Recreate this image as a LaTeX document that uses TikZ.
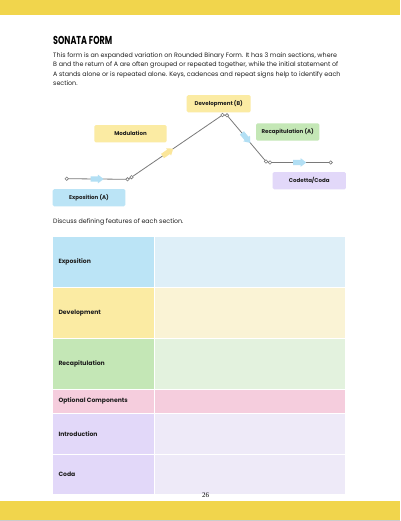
\documentclass[tikz,border=0pt]{standalone}
\usepackage{fontspec}
\setmainfont{Poppins}
\newfontfamily\pagefont{Liberation Serif}
\usetikzlibrary{decorations.markings}
\definecolor{band}{HTML}{F1D54C}
\definecolor{lblue}{HTML}{BBE4F6}
\definecolor{lyellow}{HTML}{FBEBA3}
\definecolor{lgreen}{HTML}{C4E7B6}
\definecolor{lpurple}{HTML}{E2D8F9}
\definecolor{lpink}{HTML}{F5CDDD}
\definecolor{cblue}{HTML}{DEEFF8}
\definecolor{cyellow}{HTML}{FAF3D5}
\definecolor{cgreen}{HTML}{E3F2DE}
\definecolor{cpurple}{HTML}{EEEAF8}
\definecolor{ablue}{HTML}{B2DFF4}
\definecolor{ayellow}{HTML}{FBE69A}
\definecolor{linegray}{HTML}{7A7A7A}
\definecolor{txt}{HTML}{1E1E1E}
\tikzset{
  lbl/.style={rectangle, rounded corners=1.5pt, inner sep=0pt, font=\fontsize{5.5}{7}\selectfont\bfseries, text=txt},
  dot/.style={circle, draw=linegray, fill=white, line width=0.6pt, inner sep=0pt, minimum size=3.4pt},
  seg/.style={draw=linegray, line width=0.8pt},
  fatarrow/.style 2 args={postaction={decorate}, decoration={markings, mark=at position #1 with {
      \fill[#2] (-6.5,-2.6) -- (0.8,-2.6) -- (0.8,-4.4) -- (6.5,0) -- (0.8,4.4) -- (0.8,2.6) -- (-6.5,2.6) -- cycle;}}},
  rowlbl/.style={font=\fontsize{6.1}{7}\selectfont\bfseries, text=txt, anchor=west, inner sep=0pt}
}
\begin{document}
\begin{tikzpicture}[x=1pt,y=-1pt]
\useasboundingbox (0,0) rectangle (400,521);
\fill[white] (0,0) rectangle (400,521);
% bands
\fill[band] (0,0) rectangle (400,15);
\fill[band] (0,501) rectangle (400,519.5);
\fill[gray!40] (0,519.5) rectangle (400,521);
% title and intro
\node[anchor=base west, inner sep=0pt, font=\fontsize{11.5}{12}\selectfont\bfseries, text=black] (title) at (53,45) {\scalebox{0.7}[1]{SONATA FORM}};
\node[anchor=north west, inner sep=0pt, align=left, font=\fontsize{6.35}{9.3}\selectfont, text=txt] (intro) at (53,52.5) {This form is an expanded variation on Rounded Binary Form. It has 3 main sections, where\\B and the return of A are often grouped or repeated together, while the initial statement of\\A stands alone or is repeated alone. Keys, cadences and repeat signs help to identify each\\section.};
% diagram labels
\node[lbl, fill=lyellow, minimum width=64pt, minimum height=17.3pt] (dev) at (218.7,103.7) {Development (B)};
\node[lbl, fill=lyellow, minimum width=72.4pt, minimum height=17.3pt] (mod) at (130.5,133.7) {Modulation};
\node[lbl, fill=lgreen, minimum width=63.3pt, minimum height=17.4pt] (rec) at (287.7,132) {Recapitulation (A)};
\node[lbl, fill=lpurple, minimum width=73.3pt, minimum height=17.3pt] (cod) at (309.3,180.7) {Codetta/Coda};
\node[lbl, fill=lblue, minimum width=72.6pt, minimum height=17.3pt] (exp) at (89,197.7) {Exposition (A)};
% line points
\coordinate (c1) at (66.7,178.7);
\coordinate (c2a) at (127.5,179.3);
\coordinate (c2b) at (131.5,177.2);
\coordinate (c3a) at (222.5,115);
\coordinate (c3b) at (227,115.3);
\coordinate (c4a) at (266,161.5);
\coordinate (c4b) at (270,162.5);
\coordinate (c5) at (330.7,162.5);
\path[seg] (c1) -- (c2a) -- (c2b) -- (c3a) -- (c3b) -- (c4a) -- (c4b) -- (c5);
% arrows
\path[fatarrow={0.5}{ablue}] (c1) -- (c2a);
\path[fatarrow={0.4}{ayellow}] (c2b) -- (c3a);
\path[fatarrow={0.49}{ablue}] (c3b) -- (c4a);
\path[fatarrow={0.49}{ablue}] (c4b) -- (c5);
% dots
\foreach \p in {c1,c2a,c2b,c3a,c3b,c4a,c4b,c5} \node[dot] at (\p) {};
% discuss
\node[anchor=base west, inner sep=0pt, font=\fontsize{6.3}{8}\selectfont, text=txt] (disc) at (53,223.5) {Discuss defining features of each section.};
% table
\foreach \ya/\yb/\hc/\cc/\name/\txt in {
  236.5/287/lblue/cblue/r1/Exposition,
  288/338/lyellow/cyellow/r2/Development,
  339/389/lgreen/cgreen/r3/Recapitulation,
  390/412.5/lpink/lpink/r4/Optional Components,
  413.5/454/lpurple/cpurple/r5/Introduction,
  455/493.5/lpurple/cpurple/r6/Coda}{
  \fill[\hc] (53,\ya) rectangle (154,\yb);
  \fill[\cc] (155,\ya) rectangle (345,\yb);
  \node[rowlbl] (\name) at (58.3,{(\ya+\yb)/2}) {\txt};
}
% page number
\node[inner sep=0pt, font=\pagefont\fontsize{7}{8}\selectfont, text=black] (pg) at (205.7,495.5) {26};
\end{tikzpicture}
\end{document}
